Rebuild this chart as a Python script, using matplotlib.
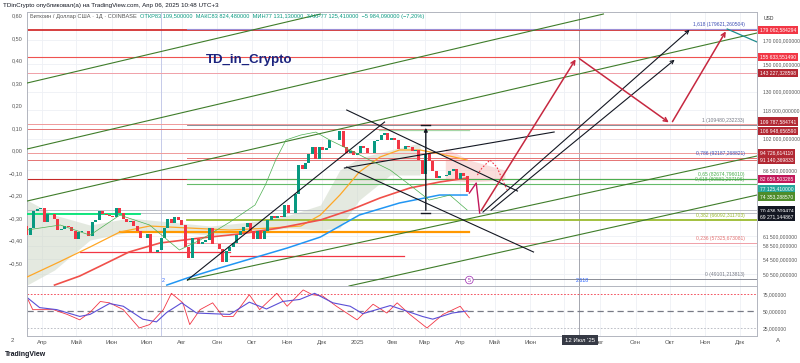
import numpy as np
import pandas as pd
import matplotlib
matplotlib.use("Agg")
import matplotlib.pyplot as plt
import matplotlib.dates as mdates
from matplotlib.ticker import NullLocator

plt.rcParams['font.family'] = ['Liberation Sans', 'DejaVu Sans']

# ---------------- data ----------------
candle_start = "2024-03-19"          # one candle every 3 days
first_open = 64800
closes = [62000, 64000, 69900, 70700, 71300, 66000, 68900, 69100, 67100, 63400,
          63800, 64900, 64300, 63100, 60600, 62900, 63100, 63000, 61500, 66200,
          67000, 70100, 69000, 68500, 68300, 67800, 71100, 69300, 67300, 66000,
          66500, 64900, 63200, 60800, 60900, 62100, 56600, 56700, 57300, 60800,
          64100, 67200, 65900, 67900, 66800, 65300, 58100, 55000, 60900, 60600,
          58900, 59500, 60400, 64200, 59000, 58900, 57500, 53900, 57000, 58100,
          59200, 61700, 63300, 64300, 65800, 63300, 60700, 63000, 60600, 63200,
          67000, 68400, 67400, 68200, 67900, 72300, 69300, 69400, 76500, 88700,
          87300, 89800, 94300, 97700, 91900, 97400, 95900, 96900, 101100, 101100,
          101400, 106100, 97800, 94700, 95800, 93700, 94400, 98200, 96900, 94500,
          94500, 100500, 101300, 103700, 104700, 101300, 102400, 101400, 96600, 96500,
          97900, 97600, 95600, 96100, 91400, 84700, 94200, 90600, 86200, 82900,
          84000, 84000, 84200, 86100, 86900, 82600, 85200, 83800, 77100]

# comparison symbol (left % scale)
cmp_dates = ["2024-03-19", "2024-04-17", "2024-05-13", "2024-06-08", "2024-07-04", "2024-07-30",
             "2024-08-17", "2024-09-12", "2024-10-04", "2024-10-13", "2024-10-22", "2024-10-31",
             "2024-11-13", "2024-11-26", "2024-12-08", "2024-12-26", "2025-01-12", "2025-01-30",
             "2025-02-16", "2025-03-05", "2025-03-23", "2025-04-07"]
cmp_vals = [-0.353, -0.331, -0.376, -0.287, -0.331, -0.442, -0.398, -0.318, -0.242, -0.153, -0.042,
            0.047, 0.069, 0.082, 0.047, 0.002, -0.042, -0.087, -0.153, -0.22, -0.198, -0.264]

# moving averages
ma_orange_dates = ["2024-03-19", "2024-04-16", "2024-05-13", "2024-06-08", "2024-07-04", "2024-08-08",
                   "2024-09-12", "2024-10-17", "2024-11-13", "2024-11-30", "2024-12-17", "2025-01-03",
                   "2025-01-21", "2025-02-07", "2025-02-25", "2025-03-19", "2025-04-07"]
ma_orange = [49730, 53760, 58110, 62810, 64790, 64110, 63460, 64110, 64790, 68600, 76090, 85740,
             92660, 96100, 96100, 93630, 91230]
ma_red_dates = ["2024-04-12", "2024-05-04", "2024-05-22", "2024-06-16", "2024-07-13", "2024-08-17",
                "2024-09-20", "2024-10-25", "2024-11-30", "2024-12-26", "2025-01-21", "2025-02-16",
                "2025-03-14", "2025-04-07"]
ma_red = [47700, 49990, 52650, 56620, 59330, 60880, 62150, 64110, 66840, 70390, 74920, 78900, 81400, 83110]
ma_blue_dates = ["2024-07-19", "2024-08-06", "2024-09-03", "2024-11-01", "2024-11-30", "2025-01-03",
                 "2025-02-07", "2025-03-14", "2025-04-07"]
ma_blue = [47700, 49500, 52110, 57800, 61190, 68600, 73010, 76090, 76090]

# ichimoku-like cloud
cloud_dates = ["2024-03-19", "2024-04-12", "2024-05-13", "2024-06-16", "2024-07-22", "2024-08-26",
               "2024-09-30", "2024-11-03", "2024-11-30", "2024-12-17", "2025-01-03", "2025-01-30",
               "2025-02-25", "2025-03-19", "2025-04-09", "2025-05-10"]
cloud_top = [74150, 68600, 65120, 67540, 66150, 64790, 66150, 68600, 72240, 86630, 92200, 96100,
             99650, 97100, 91230, 86630]
cloud_bot = [47700, 51570, 60250, 62810, 62810, 61830, 62810, 64110, 63460, 64110, 74150, 84410,
             84410, 82240, 81400, 82240]

# oscillator
rsi_dates = ["2024-03-19", "2024-03-24", "2024-04-11", "2024-04-23", "2024-05-04", "2024-05-13",
             "2024-05-22", "2024-05-30", "2024-06-11", "2024-06-25", "2024-07-04", "2024-07-16",
             "2024-07-23", "2024-08-02", "2024-08-08", "2024-08-17", "2024-08-28", "2024-09-06",
             "2024-09-15", "2024-09-29", "2024-10-08", "2024-10-23", "2024-11-01", "2024-11-15",
             "2024-11-23", "2024-12-02", "2024-12-14", "2025-01-01", "2025-01-15", "2025-01-27",
             "2025-02-05", "2025-02-16", "2025-03-03", "2025-03-17", "2025-04-01", "2025-04-09"]
rsi_vals = [70, 52, 52, 45, 37, 48, 64, 62, 52, 25, 30, 52, 76, 62, 30, 52, 62, 42, 42, 74,
            52, 76, 57, 81, 74, 72, 57, 37, 60, 47, 62, 45, 25, 45, 57, 40]
sig_dates = ["2024-03-19", "2024-03-30", "2024-04-14", "2024-05-04", "2024-05-13", "2024-05-30",
             "2024-06-11", "2024-06-28", "2024-07-10", "2024-07-19", "2024-08-01", "2024-08-14",
             "2024-08-28", "2024-09-12", "2024-09-29", "2024-10-14", "2024-10-28", "2024-11-12",
             "2024-11-25", "2024-12-11", "2024-12-26", "2025-01-06", "2025-01-18", "2025-01-30",
             "2025-02-13", "2025-02-27", "2025-03-08", "2025-03-25", "2025-04-07"]
sig_vals = [70, 55, 52, 42, 45, 61, 57, 38, 34, 48, 62, 47, 46, 45, 63, 53, 64, 67, 76, 62,
            57, 46, 52, 58, 50, 42, 38, 47, 50]

# horizontal levels (full width) and right axis labels
level_prices = [179062.584294, 155633.551490, 143227.328598, 109787.584741, 106948.656590,
                94726.614110, 91140.369833, 82659.503285, 70436.309474, 69271.144867]
box_prices = [179062.584294, 155633.551490, 143227.328598, 109787.584741, 106948.656590,
              94726.614110, 91140.369833, 82659.503285, 77125.410000, 74353.288570,
              70436.309474, 69271.144867]
right_ticks = [170000, 150000, 130000, 118000, 102000, 86500, 61500, 58500, 54500, 50500]
left_ticks = [0.6, 0.5, 0.4, 0.3, 0.2, 0.1, 0.0, -0.1, -0.2, -0.3, -0.4, -0.5]

# fibonacci retracement (Aug-24 low -> Jan-25 high)
fib_start = "2024-08-06"
fib_low, fib_high = 49101.213813, 109480.232233
fib_levels = [0, 0.236, 0.382, 0.618, 0.65, 0.786, 1, 1.618]
fib_texts = ["0 (49101,213813)", "0,236 (57325,673081)", "0,382 (66092,311703)",
             "0,618 (80581,207196)", "0,65 (82674,796010)", "0,786 (92187,268821)",
             "1 (109480,232233)", "1,618 (179621,260504)"]

# short horizontal segments: (price, start, end)
segments = [(62810, "2024-06-08", "2025-04-09"), (55460, "2024-09-12", "2025-02-11"),
            (56620, "2024-05-04", "2024-09-12"), (68960, "2024-03-19", "2024-06-26"),
            (106600, "2025-01-20", "2025-04-09")]

# rising channel lines (two points each)
channels = [(("2024-03-19", 136000), ("2024-11-30", 194500)),
            (("2024-03-19", 96590), ("2025-08-04", 194550)),
            (("2024-03-19", 73750), ("2025-12-16", 176300)),
            (("2024-08-06", 48970), ("2025-12-16", 93150)),
            (("2024-12-25", 47470), ("2025-12-16", 76090))]

# black trend lines
trend_lines = [(("2024-08-06", 48960), ("2025-01-25", 111100)),
               (("2024-12-23", 118250), ("2025-05-21", 77680)),
               (("2024-12-23", 87990), ("2025-06-04", 56620)),
               (("2024-12-21", 87530), ("2025-06-22", 105500))]
measure_date, measure_lo, measure_hi = "2025-03-02", 69310, 109400
proj_arrows = [(("2025-04-19", 68960), ("2025-10-20", 180930)),
               (("2025-04-26", 69660), ("2025-10-07", 154860))]
red_path = [("2025-04-09", 76890), ("2025-04-15", 80970), ("2025-04-18", 69310),
            ("2025-07-12", 155660), ("2025-10-02", 109960), ("2025-11-20", 179990)]
teal_path = [("2025-11-20", 179990), ("2025-12-16", 168260)]
dotted_arc = [("2025-04-16", 84410), ("2025-04-20", 87530), ("2025-04-27", 91230),
              ("2025-05-03", 87990), ("2025-05-08", 82240), ("2025-05-12", 78090)]

month_labels = ["Апр", "Май", "Июн", "Июл", "Авг", "Сен", "Окт", "Ноя", "Дек", "2025", "Фев",
                "Мар", "Апр", "Май", "Июн", "", "Авг", "Сен", "Окт", "Ноя", "Дек"]


def dn(s):
    return mdates.date2num(pd.to_datetime(s))


def fmt(v, dec=6):
    s = f"{v:,.{dec}f}"
    return s.replace(",", " ").replace(".", ",")


# ---------------- figure ----------------
fig = plt.figure(figsize=(8, 3.63), dpi=100)
ax = fig.add_axes([0.03375, 0.21212, 0.9125, 0.75482])
axo = fig.add_axes([0.03375, 0.07438, 0.9125, 0.13774], sharex=ax)
axp = ax.twinx()   # left % scale of the comparison symbol

x0, x1 = dn("2024-03-19"), dn("2025-12-16")
ax.set_yscale("log")
ax.set_ylim(47470, 196580)
ax.set_xlim(x0, x1)
ax.yaxis.set_minor_locator(NullLocator())

grid_c = "#eef0f5"
months = mdates.date2num(pd.date_range("2024-04-01", "2025-12-01", freq="MS"))
for a in (ax, axo):
    for m in months:
        a.axvline(m, color=grid_c, lw=0.6, zorder=0)
    for s in a.spines.values():
        s.set_color("#b2b5be")
        s.set_linewidth(0.7)
for t in right_ticks:
    ax.axhline(t, color=grid_c, lw=0.6, zorder=0)
for a in (ax, axo):
    a.axvline(dn("2024-07-14"), color="#c5cae9", lw=0.7, zorder=1)
    a.axvline(dn("2025-07-14"), color="#9598a1", lw=0.6, zorder=1)

axis_fs = 3.6

# cloud
cd = np.array([dn(d) for d in cloud_dates])
ct, cb = np.array(cloud_top), np.array(cloud_bot)
green_part = cd <= dn("2025-02-25")
ax.fill_between(cd, cb, ct, where=green_part, color="#cfd8c8", alpha=0.55, lw=0, zorder=1)
ax.fill_between(cd, cb, ct, where=~green_part, color="#f8c9c6", alpha=0.6, lw=0, zorder=1)

# full width levels
lev_cols = ["#d32f2f", "#ef5350", "#f0a0a8", "#ef9a9a", "#e57373", "#ef9a9a", "#e57373",
            "#c62828", "#b2b5be", "#b2b5be"]
lev_lw = [1.3, 0.8, 0.7, 0.7, 0.7, 0.7, 0.7, 0.8, 0.6, 0.6]
for p, c, lw in zip(level_prices, lev_cols, lev_lw):
    ax.axhline(p, color=c, lw=lw, zorder=2)

# fib
fx0 = dn(fib_start)
fib_cols = ["#787b86", "#f0a0a8", "#9bbb2f", "#66bb6a", "#4caf50", "#e57373", "#787b86", "#9c8fd6"]
fib_tcols = ["#787b86", "#e57373", "#9bbb2f", "#4caf50", "#4caf50", "#3f51b5", "#787b86", "#3f51b5"]
fib_lw = [0.6, 0.7, 1.3, 0.8, 0.8, 0.7, 0.6, 0.8]
for lvl, txt, c, tc, lw in zip(fib_levels, fib_texts, fib_cols, fib_tcols, fib_lw):
    p = fib_low * (fib_high / fib_low) ** lvl
    ax.plot([fx0, x1], [p, p], color=c, lw=lw, zorder=2)
    ax.text(dn("2025-12-05"), p * 1.012, txt, fontsize=3.6, color=tc, ha="right", va="bottom", zorder=6)

# short segments
seg_cols = ["#ff9800", "#f23645", "#f23645", "#00e676", "#a5d6a7"]
seg_lw = [1.6, 0.9, 0.9, 1.3, 0.9]
for (p, a, b), c, lw in zip(segments, seg_cols, seg_lw):
    ax.plot([dn(a), dn(b)], [p, p], color=c, lw=lw, zorder=3)

# rising channels
for (a, b) in channels:
    ax.plot([dn(a[0]), dn(b[0])], [a[1], b[1]], color="#3f7d2a", lw=0.8, zorder=3)

# moving averages
ax.plot([dn(d) for d in ma_orange_dates], ma_orange, color="#ffa726", lw=0.9, zorder=3)
ax.plot([dn(d) for d in ma_red_dates], ma_red, color="#f0504a", lw=1.2, zorder=3)
ax.plot([dn(d) for d in ma_blue_dates], ma_blue, color="#2196f3", lw=1.1, zorder=3)

# candles
cx = mdates.date2num(pd.date_range(candle_start, periods=len(closes), freq="3D"))
cl = np.array(closes, dtype=float)
op = np.array([first_open] + closes[:-1], dtype=float)
up = cl >= op
ax.bar(cx[up], cl[up] - op[up], bottom=op[up], width=2.6, color="#089981", zorder=4)
ax.bar(cx[~up], op[~up] - cl[~up], bottom=cl[~up], width=2.6, color="#f23645", zorder=4)

# trend lines
for (a, b) in trend_lines:
    ax.plot([dn(a[0]), dn(b[0])], [a[1], b[1]], color="#131722", lw=0.8, zorder=5)
md = dn(measure_date)
ax.annotate("", xy=(md, measure_hi), xytext=(md, measure_lo),
            arrowprops=dict(arrowstyle="-|>", color="#131722", lw=1.0, mutation_scale=5), zorder=5)
ax.plot([md - 4, md + 4], [measure_lo, measure_lo], color="#131722", lw=1.0, zorder=5)
ax.plot([md - 4, md + 4], [measure_hi, measure_hi], color="#131722", lw=1.0, zorder=5)
for (a, b) in proj_arrows:
    ax.annotate("", xy=(dn(b[0]), b[1]), xytext=(dn(a[0]), a[1]),
                arrowprops=dict(arrowstyle="->", color="#131722", lw=0.8, mutation_scale=6), zorder=5)

rp = [(dn(d), p) for d, p in red_path]
ax.plot([q[0] for q in rp[:3]], [q[1] for q in rp[:3]], color="#c2185b", lw=1.0, zorder=5)
for a, b in zip(rp[2:-1], rp[3:]):
    ax.annotate("", xy=b, xytext=a,
                arrowprops=dict(arrowstyle="->", color="#c62840", lw=1.1, mutation_scale=7), zorder=5)
ax.plot([dn(d) for d, _ in teal_path], [p for _, p in teal_path], color="#1e8c8c", lw=0.9, zorder=5)
ax.plot([dn(d) for d, _ in dotted_arc], [p for _, p in dotted_arc], color="#f23645", lw=0.8,
        ls=(0, (1.5, 1.5)), zorder=5)

# texts in chart
ax.text(dn("2024-09-29"), 153260, "TD_in_Crypto", fontsize=9.5, color="#1a237e",
        fontweight="bold", ha="center", va="center", zorder=7)
ax.text(dn("2024-07-16"), 48800, "2", fontsize=3.8, color="#2962ff", ha="center", va="center")
ax.text(dn("2025-07-17"), 48800, "2.618", fontsize=3.8, color="#2962ff", ha="center", va="center")
ax.text(dn("2025-04-09"), 48960, "5", fontsize=3.8, color="#9c27b0", ha="center", va="center",
        bbox=dict(boxstyle="circle,pad=0.25", fc="white", ec="#9c27b0", lw=0.5))

# legend row
t1 = ax.text(0.004, 0.982, "Биткоин / Доллар США · 1Д · COINBASE  ", transform=ax.transAxes,
             fontsize=4.1, color="#555", va="center", ha="left", zorder=8)
ax.annotate("ОТКР83 109,500000  МАКС83 824,480000  МИН77 131,130000  ЗАКР77 125,410000  "
            "−5 984,090000 (−7,20%)", xy=(1, 0.5), xycoords=t1, va="center", ha="left",
            fontsize=4.1, color="#089981", zorder=8)

# right axis boxes
box_cols = ["#f23645", "#f23645", "#b22833", "#b22833", "#b22833", "#b22833", "#b22833",
            "#c2185b", "#26a69a", "#4e8c2a", "#131722", "#131722"]
box_nudge = [0, 0, 0, 2, -1, 0, 0, 0, 2.5, 2, -0.5, -2.5]
for p, c, dy in zip(box_prices, box_cols, box_nudge):
    ax.annotate(fmt(p), xy=(1, p), xycoords=("axes fraction", "data"), xytext=(2, dy),
                textcoords="offset points", ha="left", va="center", fontsize=axis_fs, color="white",
                bbox=dict(boxstyle="square,pad=0.35", fc=c, ec="none"), annotation_clip=False, zorder=10)
fig.text(0.955, 1 - 18 / 363, "USD", fontsize=axis_fs, color="#333", va="center")

# left % axis with comparison line
axp.set_ylim(-0.602, 0.6156)
axp.yaxis.tick_left()
axp.set_yticks(left_ticks)
axp.set_yticklabels([f"{v:.2f}".replace(".", ",").replace("-", "−") for v in left_ticks],
                    fontsize=4.0, color="#555")
axp.tick_params(axis="y", length=0, pad=3)
axp.plot([dn(d) for d in cmp_dates], cmp_vals, color="#4caf50", lw=0.5, zorder=3)
for s in axp.spines.values():
    s.set_visible(False)

# right price axis (twinx moved the price ticks to the left)
ax.yaxis.tick_right()
ax.set_yticks(right_ticks)
ax.set_yticklabels([fmt(t) for t in right_ticks], fontsize=axis_fs, color="#555")
ax.tick_params(axis="y", length=0, pad=4)
ax.tick_params(axis="x", length=0, labelbottom=False)

# oscillator pane
axo.set_ylim(13.2, 86.8)
axo.axhline(75, color="#f23645", lw=0.6, ls=(0, (2, 2)))
axo.axhline(50, color="#787b86", lw=0.9, ls=(0, (5, 3)))
axo.axhline(25, color="#b2b5be", lw=0.6, ls=(0, (2, 2)))
axo.plot([dn(d) for d in rsi_dates], rsi_vals, color="#f23645", lw=0.6)
axo.plot([dn(d) for d in sig_dates], sig_vals, color="#5b4fd6", lw=0.8)
axo.yaxis.tick_right()
axo.set_yticks([75, 50, 25])
axo.set_yticklabels(["75,000000", "50,000000", "25,000000"], fontsize=axis_fs, color="#555")
axo.tick_params(axis="y", length=0, pad=4)
axo.set_xticks(months)
axo.set_xticklabels(month_labels, fontsize=4.3, color="#555")
axo.tick_params(axis="x", length=0, pad=3)

# header, footer, crosshair label
fig.text(0.004, 1 - 5 / 363, "TDinCrypto опубликовал(а) на TradingView.com, Апр 06, 2025 10:48 UTC+3",
         fontsize=4.5, color="#131722", va="center")
fig.text(0.006, 1 - 355 / 363, "TradingView", fontsize=5, fontweight="bold", color="#131722", va="center")
fig.text(580 / 800, 1 - 340 / 363, "12 Июл '25", fontsize=4.3, color="white", ha="center", va="center",
         bbox=dict(boxstyle="square,pad=0.5", fc="#363a45", ec="none"))
fig.text(12 / 800, 1 - 340 / 363, "2", fontsize=4.3, color="#555", ha="center", va="center")
fig.text(778 / 800, 1 - 340 / 363, "A", fontsize=4.3, color="#555", ha="center", va="center")

fig.savefig("out.png", dpi=100)
